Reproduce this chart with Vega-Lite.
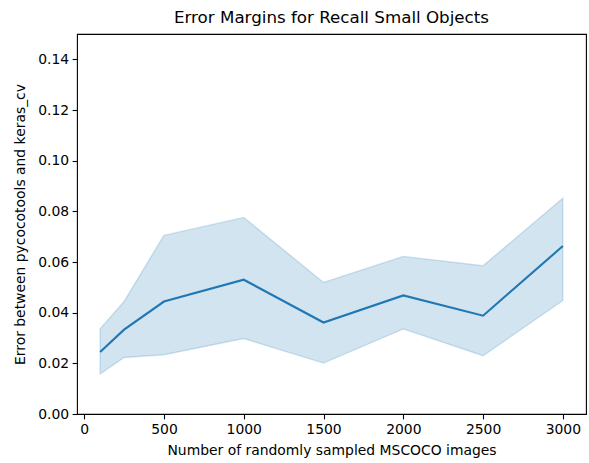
{
  "$schema": "https://vega.github.io/schema/vega-lite/v6.json",
  "autosize": {"type": "none"},
  "padding": {"left": 77, "top": 34, "right": 3, "bottom": 49},
  "width": 509,
  "height": 380,
  "background": "white",
  "title": {"text": "Error Margins for Recall Small Objects", "font": "DejaVu Sans", "fontSize": 16.7, "fontWeight": "normal", "color": "black", "offset": 7, "anchor": "middle"},
  "config": {
    "view": {"stroke": "black", "strokeWidth": 1.1},
    "axis": {"domain": false, "grid": false, "tickColor": "black", "tickWidth": 1.1, "tickSize": 4.9, "labelPadding": 3.5, "labelFont": "DejaVu Sans", "labelFontSize": 13.9, "labelColor": "black", "titleFont": "DejaVu Sans", "titleFontSize": 13.9, "titleFontWeight": "normal", "titleColor": "black"}
  },
  "data": {"values": [
    {"n": 100, "mean": 0.0245, "lo": 0.0158, "hi": 0.0336},
    {"n": 250, "mean": 0.0333, "lo": 0.0223, "hi": 0.0444},
    {"n": 500, "mean": 0.0444, "lo": 0.0234, "hi": 0.0705},
    {"n": 1000, "mean": 0.0530, "lo": 0.0298, "hi": 0.0776},
    {"n": 1500, "mean": 0.0361, "lo": 0.0201, "hi": 0.0519},
    {"n": 2000, "mean": 0.0468, "lo": 0.0336, "hi": 0.0622},
    {"n": 2500, "mean": 0.0388, "lo": 0.0230, "hi": 0.0585},
    {"n": 3000, "mean": 0.0663, "lo": 0.0448, "hi": 0.0852}
  ]},
  "encoding": {
    "x": {"field": "n", "type": "quantitative", "scale": {"domain": [-45, 3145], "nice": false, "zero": false}, "axis": {"values": [0, 500, 1000, 1500, 2000, 2500, 3000], "format": "d", "title": "Number of randomly sampled MSCOCO images", "titlePadding": 7}}
  },
  "layer": [
    {
      "mark": {"type": "area", "color": "#1f77b4", "fillOpacity": 0.2, "stroke": "#1f77b4", "strokeOpacity": 0.2, "strokeWidth": 1.4},
      "encoding": {
        "y": {"field": "lo", "type": "quantitative", "scale": {"domain": [0, 0.15], "nice": false}, "axis": {"values": [0, 0.02, 0.04, 0.06, 0.08, 0.1, 0.12, 0.14], "format": ".2f", "title": "Error between pycocotools and keras_cv", "titlePadding": 10}},
        "y2": {"field": "hi"}
      }
    },
    {
      "mark": {"type": "line", "color": "#1f77b4", "strokeWidth": 2.1},
      "encoding": {
        "y": {"field": "mean", "type": "quantitative"}
      }
    }
  ]
}
